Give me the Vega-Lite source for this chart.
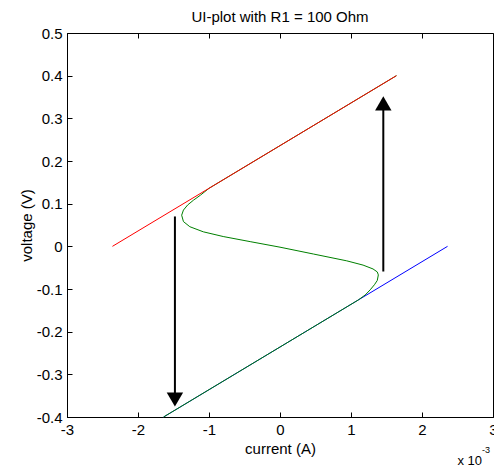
{
  "$schema": "https://vega.github.io/schema/vega-lite/v6.json",
  "width": 426,
  "height": 384,
  "autosize": "none",
  "padding": {"left": 67, "top": 33, "right": 1, "bottom": 50},
  "background": "white",
  "title": {"text": "UI-plot with R1 = 100 Ohm", "font": "Liberation Sans", "fontSize": 15, "fontWeight": "normal", "color": "black", "offset": 1, "frame": "group", "anchor": "middle"},
  "config": {
    "view": {"stroke": "black", "strokeWidth": 1},
    "axis": {"grid": false, "domainColor": "black", "tickColor": "black", "labelColor": "black", "titleColor": "black", "labelFont": "Liberation Sans", "titleFont": "Liberation Sans", "labelFontSize": 15, "titleFontSize": 15, "titleFontWeight": "normal", "tickSize": -5, "domainWidth": 1, "tickWidth": 1, "labelFlush": false, "labelOverlap": false}
  },
  "datasets": {
    "blue": [{"I": -0.00164, "V": -0.4}, {"I": 0.00236, "V": 0.0}],
    "red": [{"I": -0.00236, "V": 0.0}, {"I": 0.00164, "V": 0.4}],
    "green": [
      {"k": 0, "I": -0.00164, "V": -0.4},
      {"k": 1, "I": -0.00064, "V": -0.3},
      {"k": 2, "I": 0.00036, "V": -0.2},
      {"k": 3, "I": 0.00086, "V": -0.15},
      {"k": 4, "I": 0.0011, "V": -0.126},
      {"k": 5, "I": 0.0012, "V": -0.114},
      {"k": 6, "I": 0.00127, "V": -0.102},
      {"k": 7, "I": 0.00133, "V": -0.09},
      {"k": 8, "I": 0.00137, "V": -0.08},
      {"k": 9, "I": 0.001385, "V": -0.067},
      {"k": 10, "I": 0.00137, "V": -0.06},
      {"k": 11, "I": 0.00131, "V": -0.053},
      {"k": 12, "I": 0.00117, "V": -0.044},
      {"k": 13, "I": 0.00094, "V": -0.034},
      {"k": 14, "I": 0.00047, "V": -0.018},
      {"k": 15, "I": 0.0, "V": -0.002},
      {"k": 16, "I": -0.00042, "V": 0.011},
      {"k": 17, "I": -0.0008, "V": 0.023},
      {"k": 18, "I": -0.00108, "V": 0.034},
      {"k": 19, "I": -0.00127, "V": 0.046},
      {"k": 20, "I": -0.00136, "V": 0.058},
      {"k": 21, "I": -0.001385, "V": 0.073},
      {"k": 22, "I": -0.00136, "V": 0.085},
      {"k": 23, "I": -0.0013, "V": 0.097},
      {"k": 24, "I": -0.00122, "V": 0.108},
      {"k": 25, "I": -0.00112, "V": 0.12},
      {"k": 26, "I": -0.001, "V": 0.136},
      {"k": 27, "I": 0.0, "V": 0.236},
      {"k": 28, "I": 0.00164, "V": 0.4}
    ],
    "arrows": [
      {"I": -0.00148, "V0": 0.07, "V1": -0.345, "head": -0.359, "dir": "down"},
      {"I": 0.001455, "V0": -0.059, "V1": 0.325, "head": 0.335, "dir": "up"}
    ],
    "notes": [
      {"I": 0.003, "V": -0.4, "t": "x 10"}
    ],
    "sup": [
      {"I": 0.003, "V": -0.4, "t": "-3"}
    ]
  },
  "resolve": {"axis": {"x": "independent"}},
  "layer": [
    {
      "data": {"name": "blue"},
      "mark": {"type": "line", "color": "#0000ff", "strokeWidth": 1},
      "encoding": {
        "x": {"field": "I", "type": "quantitative", "scale": {"domain": [-0.003, 0.003], "nice": false, "zero": false},
          "axis": {"title": "current (A)", "values": [-0.003, -0.002, -0.001, 0, 0.001, 0.002, 0.003], "labelExpr": "'' + round(datum.value*1000)", "labelPadding": 10, "titlePadding": 4}},
        "y": {"field": "V", "type": "quantitative", "scale": {"domain": [-0.4, 0.5], "nice": false, "zero": false},
          "axis": {"title": "voltage (V)", "values": [-0.4, -0.3, -0.2, -0.1, 0, 0.1, 0.2, 0.3, 0.4, 0.5], "labelExpr": "'' + round(datum.value*10)/10", "labelPadding": 10, "titlePadding": 2}}
      }
    },
    {
      "data": {"name": "green"},
      "mark": {"type": "line", "color": "#008000", "strokeWidth": 1},
      "encoding": {
        "x": {"field": "I", "type": "quantitative", "axis": null},
        "y": {"field": "V", "type": "quantitative"},
        "order": {"field": "k", "type": "quantitative"}
      }
    },
    {
      "data": {"name": "red"},
      "mark": {"type": "line", "color": "#ff0000", "strokeWidth": 1},
      "encoding": {
        "x": {"field": "I", "type": "quantitative",
          "axis": {"orient": "top", "title": null, "labels": false, "domain": false, "values": [-0.003, -0.002, -0.001, 0, 0.001, 0.002, 0.003]}},
        "y": {"field": "V", "type": "quantitative"}
      }
    },
    {
      "data": {"name": "arrows"},
      "mark": {"type": "rule", "color": "black", "strokeWidth": 2},
      "encoding": {
        "x": {"field": "I", "type": "quantitative", "axis": null},
        "y": {"field": "V0", "type": "quantitative"},
        "y2": {"field": "V1"}
      }
    },
    {
      "data": {"name": "arrows"},
      "mark": {"type": "point", "filled": true, "color": "black", "opacity": 1, "size": 270},
      "encoding": {
        "x": {"field": "I", "type": "quantitative", "axis": null},
        "y": {"field": "head", "type": "quantitative"},
        "shape": {"field": "dir", "type": "nominal", "scale": {"domain": ["down", "up"], "range": ["triangle-down", "triangle-up"]}, "legend": null}
      }
    },
    {
      "data": {"name": "notes"},
      "mark": {"type": "text", "align": "right", "baseline": "alphabetic", "dx": -11, "dy": 48, "font": "Liberation Sans", "fontSize": 13, "color": "black"},
      "encoding": {
        "x": {"field": "I", "type": "quantitative", "axis": null},
        "y": {"field": "V", "type": "quantitative"},
        "text": {"field": "t"}
      }
    },
    {
      "data": {"name": "sup"},
      "mark": {"type": "text", "align": "left", "baseline": "alphabetic", "dx": -11, "dy": 36, "font": "Liberation Sans", "fontSize": 9, "color": "black"},
      "encoding": {
        "x": {"field": "I", "type": "quantitative", "axis": null},
        "y": {"field": "V", "type": "quantitative"},
        "text": {"field": "t"}
      }
    }
  ]
}
